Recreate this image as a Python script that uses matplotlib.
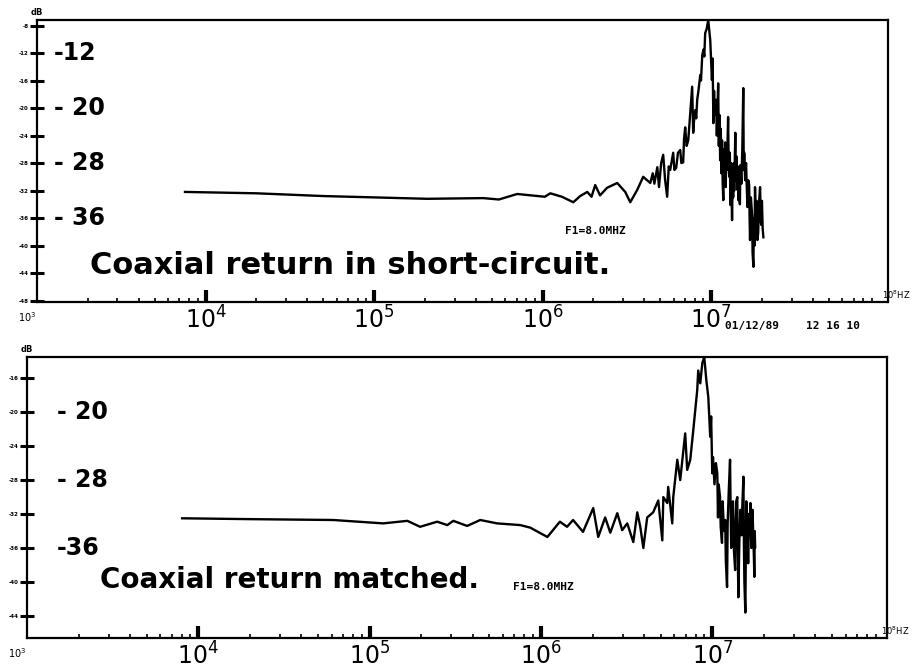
import matplotlib.pyplot as plt
import numpy as np

# readings of the two traces (frequency in Hz, level in dB)
freq_short = [7.55e3, 2.0e4, 5.0e4, 1.0e5, 2.07e5, 4.44e5, 5.5e5, 7.06e5, 1.03e6, 1.11e6,
              1.30e6, 1.52e6, 1.67e6, 1.84e6, 1.95e6, 2.05e6, 2.19e6, 2.41e6, 2.77e6, 3.09e6,
              3.31e6, 3.64e6, 3.95e6, 4.35e6, 4.5e6, 4.6e6, 4.79e6, 4.9e6, 4.98e6, 5.05e6,
              5.19e6, 5.33e6, 5.48e6, 5.6e6, 5.71e6, 5.85e6, 5.95e6, 6.05e6, 6.20e6, 6.35e6,
              6.55e6, 6.65e6, 6.82e6, 6.9e6, 7.01e6, 7.15e6, 7.31e6, 7.5e6, 7.71e6, 7.82e6,
              7.9e6, 8.04e6, 8.15e6, 8.26e6, 8.4e6, 8.61e6, 8.7e6, 8.85e6, 9.0e6, 9.1e6,
              9.21e6, 9.4e6, 9.60e6, 9.87e6, 1.00e7, 1.01e7, 1.02e7, 1.03e7, 1.04e7, 1.05e7,
              1.07e7, 1.08e7, 1.10e7, 1.11e7, 1.12e7, 1.13e7, 1.14e7, 1.15e7, 1.16e7, 1.17e7,
              1.18e7, 1.19e7, 1.20e7, 1.21e7, 1.22e7, 1.23e7, 1.24e7, 1.26e7, 1.27e7, 1.28e7,
              1.29e7, 1.30e7, 1.31e7, 1.32e7, 1.33e7, 1.34e7, 1.35e7, 1.36e7, 1.37e7, 1.39e7,
              1.40e7, 1.41e7, 1.43e7, 1.44e7, 1.45e7, 1.46e7, 1.48e7, 1.49e7, 1.51e7, 1.53e7,
              1.55e7, 1.56e7, 1.57e7, 1.59e7, 1.61e7, 1.64e7, 1.66e7, 1.68e7, 1.69e7, 1.70e7,
              1.72e7, 1.75e7, 1.76e7, 1.78e7, 1.79e7, 1.81e7, 1.82e7, 1.84e7, 1.86e7, 1.88e7,
              1.90e7, 1.92e7, 1.95e7, 1.97e7, 1.98e7, 2.00e7, 2.02e7, 2.04e7]
db_short = [-32.2, -32.4, -32.8, -33.0, -33.2, -33.1, -33.3, -32.5, -32.9, -32.4,
            -32.9, -33.7, -32.8, -32.2, -32.9, -31.2, -32.7, -31.6, -30.9, -32.2,
            -33.7, -31.9, -30.0, -30.9, -29.5, -31.0, -28.6, -31.5, -29.7, -28.0,
            -26.8, -30.5, -32.9, -28.5, -29.0, -27.5, -26.5, -29.0, -28.7, -26.5,
            -26.1, -28.0, -27.9, -24.5, -22.8, -25.5, -24.7, -21.0, -16.9, -23.6,
            -22.0, -20.3, -21.5, -18.8, -17.5, -15.2, -16.0, -12.3, -11.5, -12.5,
            -9.1, -8.5, -7.2, -10.1, -13.5, -15.9, -12.8, -22.2, -17.5, -21.0,
            -18.8, -24.0, -16.4, -25.5, -21.0, -27.6, -23.0, -29.5, -24.7, -31.0,
            -33.4, -26.0, -30.5, -25.0, -31.5, -26.1, -29.0, -21.3, -28.5, -30.0,
            -26.5, -34.1, -28.0, -32.5, -36.3, -29.5, -33.0, -28.0, -32.0, -23.6,
            -30.5, -27.0, -31.9, -28.5, -33.4, -30.0, -34.0, -28.3, -31.0, -26.0,
            -17.1, -29.0, -26.5, -30.5, -28.0, -34.4, -30.5, -31.2, -36.0, -39.2,
            -33.0, -35.6, -41.0, -43.1, -36.0, -40.0, -31.5, -38.0, -33.5, -39.2,
            -38.2, -34.0, -31.5, -36.5, -37.0, -33.5, -37.5, -38.8]

freq_match = [8.04e3, 2.0e4, 6.12e4, 1.20e5, 1.66e5, 1.97e5, 2.48e5, 2.84e5, 3.08e5, 3.71e5,
              4.42e5, 5.55e5, 7.57e5, 8.66e5, 1.09e6, 1.29e6, 1.42e6, 1.54e6, 1.76e6, 2.02e6,
              2.16e6, 2.37e6, 2.54e6, 2.79e6, 2.98e6, 3.19e6, 3.46e6, 3.65e6, 3.80e6, 3.96e6,
              4.17e6, 4.52e6, 4.84e6, 5.11e6, 5.18e6, 5.46e6, 5.53e6, 5.84e6, 5.92e6, 6.25e6,
              6.50e6, 6.95e6, 7.14e6, 7.44e6, 7.75e6, 8.17e6, 8.28e6, 8.51e6, 8.75e6, 8.98e6,
              9.23e6, 9.48e6, 9.73e6, 9.85e6, 1.00e7, 1.01e7, 1.03e7, 1.05e7, 1.07e7, 1.08e7,
              1.09e7, 1.11e7, 1.12e7, 1.14e7, 1.15e7, 1.17e7, 1.19e7, 1.20e7, 1.22e7, 1.23e7,
              1.25e7, 1.27e7, 1.28e7, 1.29e7, 1.31e7, 1.32e7, 1.34e7, 1.36e7, 1.37e7, 1.38e7,
              1.40e7, 1.41e7, 1.42e7, 1.44e7, 1.46e7, 1.48e7, 1.50e7, 1.52e7, 1.53e7, 1.54e7,
              1.56e7, 1.57e7, 1.58e7, 1.60e7, 1.61e7, 1.62e7, 1.64e7, 1.66e7, 1.67e7, 1.69e7,
              1.71e7, 1.72e7, 1.73e7, 1.75e7, 1.76e7, 1.77e7, 1.78e7]
db_match = [-32.5, -32.6, -32.7, -33.1, -32.8, -33.5, -32.9, -33.3, -32.8, -33.4,
            -32.7, -33.1, -33.3, -33.6, -34.7, -32.9, -33.5, -32.7, -34.1, -31.3,
            -34.7, -32.4, -34.2, -31.9, -33.9, -33.1, -35.3, -31.8, -33.5, -36.0,
            -32.4, -31.8, -30.4, -35.1, -30.0, -30.7, -28.8, -33.1, -30.0, -25.6,
            -28.0, -22.5, -26.8, -25.6, -22.1, -17.4, -15.1, -16.6, -14.2, -13.5,
            -16.2, -18.2, -22.9, -20.5, -27.2, -25.3, -28.5, -26.0, -27.2, -32.4,
            -28.5, -30.0, -33.5, -35.4, -30.5, -34.0, -32.7, -37.5, -40.6, -33.0,
            -29.0, -25.6, -31.5, -36.0, -34.7, -30.5, -36.5, -38.6, -33.0, -30.5,
            -30.0, -37.0, -41.8, -35.0, -31.5, -34.5, -30.7, -27.6, -35.5, -40.0,
            -43.6, -36.5, -30.5, -32.4, -35.0, -37.8, -32.0, -34.5, -30.7, -36.0,
            -35.4, -31.5, -33.9, -37.0, -39.4, -34.0, -35.9]

decades = [1e4, 1e5, 1e6, 1e7]
decade_labels = ['$10^4$', '$10^5$', '$10^6$', '$10^7$']
hand_short = ['-12', '- 20', '- 28', '- 36']
hand_short_at = [-12, -20, -28, -36]
hand_match = ['- 20', '- 28', '-36']
hand_match_at = [-20, -28, -36]
ticks_short = np.arange(-8, -49, -4)
ticks_match = np.arange(-16, -45, -4)

plt.rcParams['font.family'] = ['DejaVu Sans']
fig = plt.figure(figsize=(9.19, 6.68), dpi=100)

ax0 = fig.add_axes([0.0403, 0.548, 0.926, 0.422])
ax1 = fig.add_axes([0.0294, 0.0449, 0.936, 0.4207])


def style_axes(ax, xmax, ylim, yticks, hand, hand_at, hand_x):
    ax.set_xscale('log')
    ax.set_xlim(1e3, xmax)
    ax.set_ylim(*ylim)
    for s in ax.spines.values():
        s.set_linewidth(1.6)
    ax.set_xticks(decades)
    ax.set_xticklabels(decade_labels, fontsize=17)
    ax.tick_params(axis='x', which='major', direction='in', length=9, width=3, pad=3)
    ax.tick_params(axis='x', which='minor', direction='in', length=3, width=1.2)
    ax.set_yticks(yticks)
    ax.set_yticklabels([str(t) for t in yticks], fontsize=4, fontweight='bold')
    ax.tick_params(axis='y', which='major', direction='inout', length=10, width=2.2, pad=1)
    for lab, v in zip(hand, hand_at):
        ax.text(hand_x, v, lab, transform=ax.get_yaxis_transform(),
                fontsize=17, fontweight='bold', va='center', ha='left')
    ax.text(0.0, 1.01, 'dB', transform=ax.transAxes, fontsize=6, fontweight='bold',
            ha='center', va='bottom')
    ax.text(-0.012, -0.03, '$10^3$', transform=ax.transAxes, fontsize=7, ha='center', va='top')
    ax.text(0.993, 0.005, '$10^8$HZ', transform=ax.transAxes, fontsize=6, ha='left', va='bottom')


style_axes(ax0, 1.12e8, (-48.2, -7.2), ticks_short, hand_short, hand_short_at, 0.02)
style_axes(ax1, 1.05e8, (-46.6, -13.5), ticks_match, hand_match, hand_match_at, 0.035)

ax0.plot(freq_short, db_short, color='black', linewidth=1.7)
ax1.plot(freq_match, db_match, color='black', linewidth=1.7)

ax0.text(0.062, 0.13, 'Coaxial return in short-circuit.', transform=ax0.transAxes,
         fontsize=22, fontweight='bold', ha='left', va='center')
ax1.text(0.085, 0.205, 'Coaxial return matched.', transform=ax1.transAxes,
         fontsize=20, fontweight='bold', ha='left', va='center')

ax0.text(0.62, 0.25, 'F1=8.0MHZ', transform=ax0.transAxes, fontsize=8,
         fontweight='bold', family='monospace', ha='left', va='center')
ax1.text(0.565, 0.18, 'F1=8.0MHZ', transform=ax1.transAxes, fontsize=8,
         fontweight='bold', family='monospace', ha='left', va='center')
ax0.text(0.808, -0.085, '01/12/89    12 16 10', transform=ax0.transAxes, fontsize=8,
         fontweight='bold', family='monospace', ha='left', va='center')

fig.savefig('out.png', dpi=100)
